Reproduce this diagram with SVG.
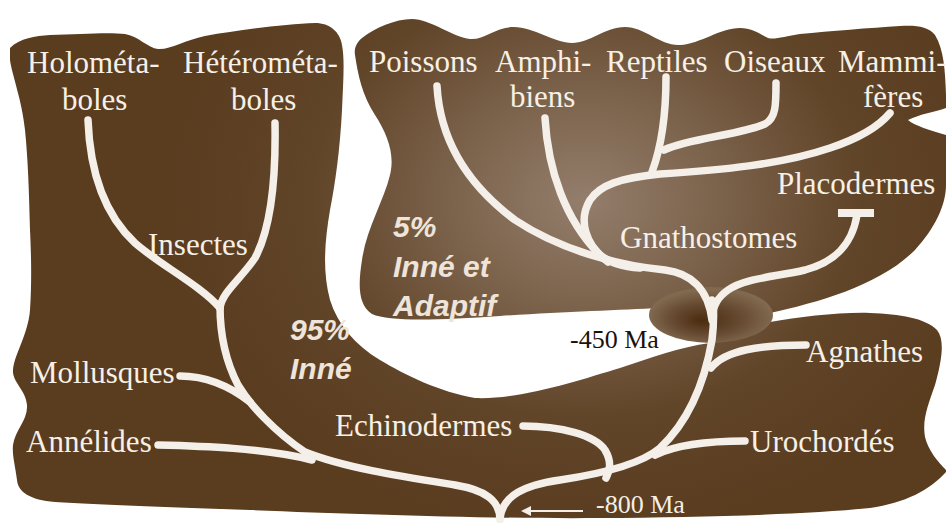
<svg xmlns="http://www.w3.org/2000/svg" width="946" height="523" viewBox="0 0 946 523">
<defs>
<radialGradient id="brown" gradientUnits="userSpaceOnUse" cx="585" cy="200" r="420" gradientTransform="translate(585,200) scale(1,0.8) translate(-585,-200)">
<stop offset="0" stop-color="#937e6c"/>
<stop offset="0.3" stop-color="#7d644d"/>
<stop offset="0.65" stop-color="#614529"/>
<stop offset="1" stop-color="#5a3c1f"/>
</radialGradient>
<radialGradient id="ell" gradientUnits="objectBoundingBox" cx="0.5" cy="0.55" fx="0.42" fy="0.6" r="0.5">
<stop offset="0" stop-color="#4a2c0f"/>
<stop offset="0.55" stop-color="#664a31"/>
<stop offset="1" stop-color="#80694f"/>
</radialGradient>
<marker id="arr" viewBox="0 0 10 10" refX="1" refY="5" markerWidth="5" markerHeight="5" orient="auto-start-reverse" markerUnits="strokeWidth">
<path d="M0,0 L10,5 L0,10 Z" fill="#f4eee7"/>
</marker>
<style>
.lbl{font-family:"Liberation Serif","Times New Roman",serif;font-size:31px;fill:#f6f0e7}
.pct{font-family:"Liberation Sans",Arial,sans-serif;font-size:30px;font-weight:bold;font-style:italic;fill:#efe4da}
.ma{font-family:"Liberation Serif","Times New Roman",serif;font-size:26px}
.br{fill:none;stroke:#f4efe9;stroke-width:7.5;stroke-linecap:round;stroke-linejoin:round}
</style>
</defs>
<rect width="946" height="523" fill="#ffffff"/>
<g id="background">
<path fill="url(#brown)" d="M10,48 C20,38 35,36 50,35 C80,34 110,32 125,34 C138,36 148,48 158,49 C170,50 185,40 205,36 C240,30 285,24 315,23 C330,23 340,32 342,45 C345,60 343,85 342,110 C340,150 335,185 330,210 C325,240 322,270 330,300 C338,325 355,345 380,360 C405,375 440,392 475,398 C520,400 580,380 620,368 C650,358 680,347 710,343 L770,322 C800,317 840,312 870,313 C900,314 925,318 937,330 C945,340 942,360 935,385 C928,405 922,420 925,437 C928,450 938,462 946,470 L946,472 C930,490 905,503 870,508 C800,515 700,517 600,518 C500,519 350,514 250,510 C170,507 100,505 55,502 C30,500 18,492 17,480 C15,465 12,455 13,445 C15,430 28,420 27,405 C26,390 12,382 13,370 C14,355 28,335 30,310 C32,280 31,250 30,230 C29,190 28,160 25,130 C22,100 12,75 10,60 Z"/>
<path fill="url(#brown)" d="M355,55 C358,75 362,95 375,115 C388,135 395,155 390,175 C384,200 366,230 362,260 C358,285 358,305 372,314 C390,322 440,320 500,316 C560,312 620,310 660,308 L770,313 C820,302 880,285 915,250 C935,228 946,205 946,185 L946,135 C930,130 915,126 908,120 C920,114 935,112 946,108 L946,95 C945,70 944,50 935,35 C928,26 915,25 900,26 C870,28 830,31 800,34 C785,36 775,40 768,38 C760,34 752,28 740,28 C720,28 700,44 680,45 C660,46 645,27 625,27 C605,27 590,43 572,43 C555,43 533,27 514,27 C495,27 485,40 470,39 C455,38 430,19 412,19 C395,19 375,28 362,38 C356,43 354,49 355,55 Z"/>
<ellipse cx="711" cy="315" rx="62" ry="28" fill="url(#ell)"/>
</g>
<g id="connectors">
<path class="br" d="M500,520 C500,500 485,490 455,485 C405,477 345,468 305,452 C275,432 250,405 238,385 C226,362 220,335 220,306"/>
<path class="br" d="M88,120 C90,175 105,215 135,243 C160,265 200,285 220,308"/>
<path class="br" d="M275,123 C276,180 270,230 255,258 C240,280 222,292 220,308"/>
<path class="br" d="M180,376 C210,376 232,388 250,402"/>
<path class="br" d="M158,445 C200,446 265,448 312,460"/>
<path class="br" d="M500,518 C503,495 525,485 560,480 C600,474 640,465 660,448 C690,420 705,380 712,340 C715,315 713,300 712,300"/>
<path class="br" d="M523,426 C560,426 595,435 605,450 C612,462 610,470 606,478"/>
<path class="br" d="M745,441 C715,441 680,443 655,455"/>
<path class="br" d="M806,345 C760,345 725,350 711,368"/>
<path class="br" d="M857,215 C852,245 835,262 805,270 C775,277 745,278 728,290 C718,297 713,305 712,318"/>
<path class="br" d="M437,86 C440,140 468,185 515,220 C560,250 620,266 665,270 C690,273 708,288 712,320"/>
<path class="br" d="M545,118 C548,170 565,220 600,255 C610,263 625,267 640,268"/>
<path class="br" d="M608,262 C585,245 578,220 590,200 C600,185 620,178 660,174 C720,170 780,165 830,148 C860,138 880,125 890,113"/>
<path class="br" d="M666,77 C666,110 662,145 652,172"/>
<path class="br" d="M776,83 C776,105 776,118 765,124 C740,135 690,138 664,150"/>
<rect x="838" y="209" width="36" height="8" fill="#f4efe9"/>
<line x1="583" y1="511" x2="530" y2="511" stroke="#f4eee7" stroke-width="2" marker-end="url(#arr)"/>
</g>
<g id="node-holometaboles"><text class="lbl" x="27" y="73">Holométa-</text><text class="lbl" x="62" y="110">boles</text></g>
<g id="node-heterometaboles"><text class="lbl" x="183" y="73">Hétérométa-</text><text class="lbl" x="231" y="110">boles</text></g>
<g id="node-insectes"><text class="lbl" x="148" y="255">Insectes</text></g>
<g id="node-mollusques"><text class="lbl" x="30" y="383">Mollusques</text></g>
<g id="node-annelides"><text class="lbl" x="26" y="452">Annélides</text></g>
<g id="node-echinodermes"><text class="lbl" x="335" y="436">Echinodermes</text></g>
<g id="node-poissons"><text class="lbl" x="369" y="72">Poissons</text></g>
<g id="node-amphibiens"><text class="lbl" x="495" y="72">Amphi-</text><text class="lbl" x="510" y="107">biens</text></g>
<g id="node-reptiles"><text class="lbl" x="606" y="72">Reptiles</text></g>
<g id="node-oiseaux"><text class="lbl" x="724" y="72">Oiseaux</text></g>
<g id="node-mammiferes"><text class="lbl" x="838" y="72">Mammi-</text><text class="lbl" x="863" y="107">fères</text></g>
<g id="node-placodermes"><text class="lbl" x="777" y="194">Placodermes</text></g>
<g id="node-gnathostomes"><text class="lbl" x="620" y="248">Gnathostomes</text></g>
<g id="node-agnathes"><text class="lbl" x="806" y="362">Agnathes</text></g>
<g id="node-urochordes"><text class="lbl" x="750" y="452">Urochordés</text></g>
<g id="label-450"><text class="ma" x="570" y="348" fill="#1c120a">-450 Ma</text></g>
<g id="label-800"><text class="ma" x="596" y="513" fill="#f4eee7">-800 Ma</text></g>
<g id="label-5"><text class="pct" x="393" y="237">5%</text><text class="pct" x="393" y="277">Inné et</text><text class="pct" x="393" y="316">Adaptif</text></g>
<g id="label-95"><text class="pct" x="290" y="340">95%</text><text class="pct" x="290" y="379">Inné</text></g>
</svg>
